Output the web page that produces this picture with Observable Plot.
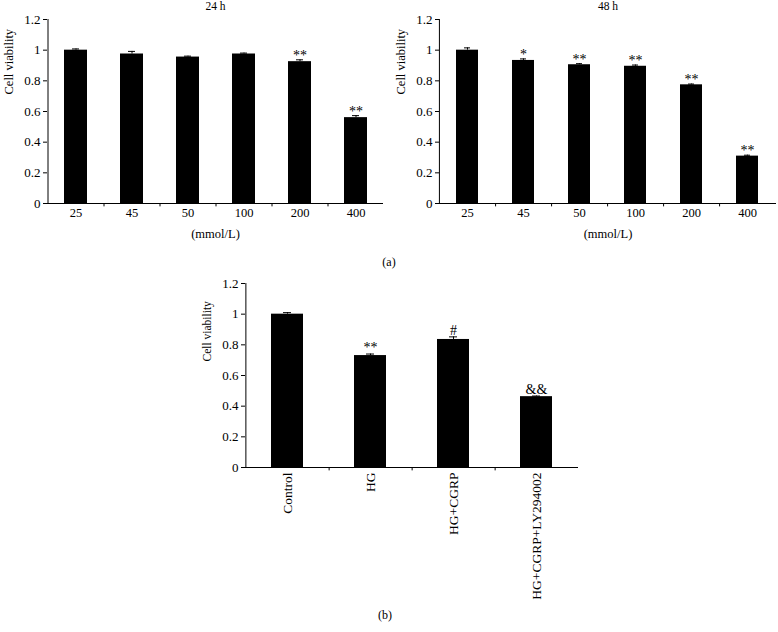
<!DOCTYPE html>
<html>
<head>
<meta charset="utf-8">
<script src="https://cdn.jsdelivr.net/npm/d3@7"></script>
<script src="https://cdn.jsdelivr.net/npm/@observablehq/plot@0.6"></script>
<style>
  body { margin: 0; background: #fff; }
  #root { position: relative; width: 778px; height: 632px; background: #fff; font-family: "Liberation Serif", serif; color: #000; }
  .pane { position: absolute; }
  .tag { position: absolute; font-size: 12px; transform: translate(-50%, -50%); }
</style>
</head>
<body>
<div id="root">
  <div class="pane" id="p24" style="left:0px;top:0px"></div>
  <div class="pane" id="p48" style="left:388px;top:0px"></div>
  <div class="pane" id="pb" style="left:190px;top:268px"></div>
  <div class="tag" style="left:389px;top:262px">(a)</div>
  <div class="tag" style="left:385px;top:615px">(b)</div>
</div>
<script>
// ---- data ----
const concentrations = ["25", "45", "50", "100", "200", "400"];
const viability24 = [1.0, 0.975, 0.955, 0.975, 0.925, 0.56];
const error24 = [0.008, 0.017, 0.006, 0.006, 0.012, 0.013];
const sig24 = ["", "", "", "", "**", "**"];

const viability48 = [1.0, 0.933, 0.905, 0.895, 0.774, 0.309];
const error48 = [0.015, 0.01, 0.007, 0.008, 0.005, 0.006];
const sig48 = ["", "*", "**", "**", "**", "**"];

const groups = ["Control", "HG", "HG+CGRP", "HG+CGRP+LY294002"];
const viabilityB = [1.0, 0.73, 0.835, 0.462];
const errorB = [0.01, 0.01, 0.017, 0.004];
const sigB = ["", "**", "#", "&&"];

const yTicks = [0, 0.2, 0.4, 0.6, 0.8, 1, 1.2];

function panel(o) {
  const data = o.cats.map((c, i) => ({c, v: o.vals[i], e: o.errs[i], s: o.sig[i]}));
  const bounds = o.cats.slice(0, -1);
  const step = (o.width - o.ml - o.mr) / o.cats.length;
  const marks = [
    Plot.barY(data, {x: "c", y: "v", fill: "#000"}),
    Plot.ruleX(data, {x: "c", y1: "v", y2: d => d.v + d.e, stroke: "#000"}),
    Plot.tickY(data, {x: "c", y: d => d.v + d.e, insetLeft: o.capInset, insetRight: o.capInset, stroke: "#000"}),
    Plot.text(data, {x: "c", y: d => d.v + d.e, text: "s", lineAnchor: "bottom", dy: o.sigDy, fontSize: 14, fill: "#000"}),
    Plot.ruleY([0], {stroke: "#000"}),
    Plot.ruleX(bounds, {x: d => d, dx: step / 2, y1: 0, y2: -0.022, stroke: "#000"}),
    Plot.ruleX([o.cats[0]], {x: d => d, dx: -step / 2, y1: 0, y2: 1.2, stroke: "#000"}),
    Plot.axisY({ticks: yTicks, tickFormat: d => String(+d.toFixed(1)), tickSize: 4, tickPadding: 3, fontSize: 13, label: null}),
    Plot.axisX({tickSize: 0, tickPadding: 5, tickRotate: o.rotate || 0, fontSize: o.xFont, label: null}),
    Plot.text(["Cell viability"], {frameAnchor: "left", rotate: -90, dx: -o.ylabOff, dy: o.ylabDy, fontSize: o.ylabFont, fill: "#000"})
  ];
  if (o.title) marks.push(Plot.text([o.title], {frameAnchor: "top", dy: -13, fontSize: 11.5, lineAnchor: "middle", fill: "#000"}));
  if (o.xlabel) marks.push(Plot.text([o.xlabel], {frameAnchor: "bottom", dy: 30, fontSize: 12.5, lineAnchor: "middle", fill: "#000"}));
  return Plot.plot({
    width: o.width, height: o.height,
    marginLeft: o.ml, marginRight: o.mr, marginTop: o.mt, marginBottom: o.mb,
    style: {fontFamily: "Liberation Serif, serif", fontSize: "12.5px", color: "#000", background: "transparent"},
    x: {domain: o.cats, paddingInner: o.padding, paddingOuter: o.padding / 2, label: null},
    y: {domain: [0, 1.2], label: null},
    marks
  });
}

document.getElementById("p24").append(panel({
  cats: concentrations, vals: viability24, errs: error24, sig: sig24,
  width: 390, height: 250, ml: 47, mr: 7, mt: 19, mb: 47,
  padding: 0.59, capInset: 8, sigDy: 0, ylabOff: 39, ylabDy: -17, ylabFont: 12.5, xFont: 12.5,
  title: "24 h", xlabel: "(mmol/L)"
}));
document.getElementById("p48").append(panel({
  cats: concentrations, vals: viability48, errs: error48, sig: sig48,
  width: 390, height: 250, ml: 51, mr: 2, mt: 19, mb: 47,
  padding: 0.6, capInset: 8, sigDy: 0, ylabOff: 39, ylabDy: -17, ylabFont: 12.5, xFont: 12.5,
  title: "48 h", xlabel: "(mmol/L)"
}));
document.getElementById("pb").append(panel({
  cats: groups, vals: viabilityB, errs: errorB, sig: sigB,
  width: 393, height: 335, ml: 55, mr: 5, mt: 15, mb: 136,
  padding: 0.61, capInset: 12, sigDy: -2, ylabOff: 38, ylabDy: -14, ylabFont: 11.5, xFont: 13.5, rotate: -90
}));
</script>
</body>
</html>
